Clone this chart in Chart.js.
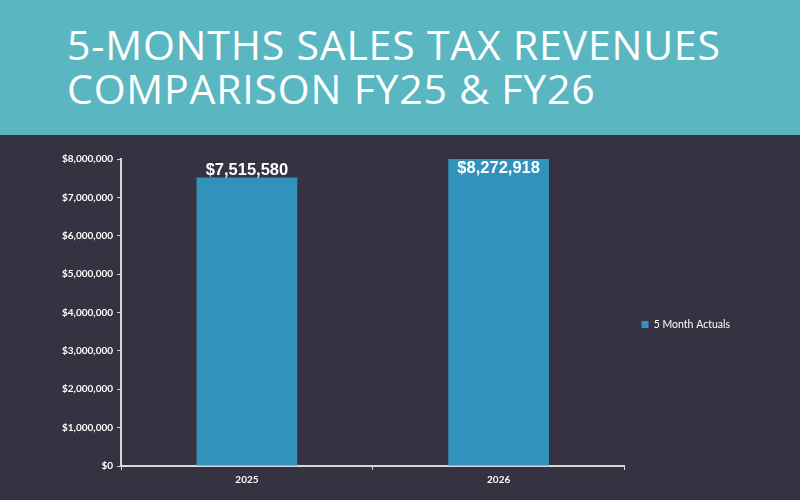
<!DOCTYPE html>
<html>
<head>
<meta charset="utf-8">
<script src="https://cdn.jsdelivr.net/npm/chart.js@4/dist/chart.umd.min.js"></script>
<style>
    html, body { margin: 0; padding: 0; }
    body { width: 800px; height: 500px; background: #353241; overflow: hidden; position: relative; }
    .header {
        position: absolute; left: 0; top: 0; width: 800px; height: 135px;
        background: #5ab7c1;
    }
    .header h1 {
        margin: 0; position: absolute; left: 67px; top: 22px;
        font-family: "Open Sans", sans-serif; font-weight: 400;
        font-size: 41px; line-height: 44px; color: #ffffff; letter-spacing: 0.8px;
    }
    .chart-box { position: absolute; left: 0; top: 135px; width: 800px; height: 365px; }
</style>
</head>
<body>
<div class="header"><h1>5-MONTHS SALES TAX REVENUES<br>COMPARISON FY25 &amp; FY26</h1></div>
<div class="chart-box"><canvas id="salesChart"></canvas></div>
<script>
const years = ['2025', '2026'];
const actuals = [7515580, 8272918];
const seriesName = '5 Month Actuals';
const yMax = 8000000;
const yStep = 1000000;

function money(v) {
    return '$' + Number(v).toLocaleString('en-US');
}

// value labels: above the bar, or inside the top when the bar runs past the axis max
const barLabels = {
    id: 'barLabels',
    afterDatasetsDraw(chart) {
        const ctx = chart.ctx;
        const meta = chart.getDatasetMeta(0);
        ctx.save();
        ctx.font = 'bold 16.5px "Liberation Sans", Arial, sans-serif';
        ctx.fillStyle = '#ffffff';
        ctx.textAlign = 'center';
        meta.data.forEach((bar, i) => {
            const v = actuals[i];
            if (v > yMax) {
                ctx.textBaseline = 'top';
                ctx.fillText(money(v), bar.x, chart.chartArea.top + 1);
            } else {
                ctx.textBaseline = 'bottom';
                ctx.fillText(money(v), bar.x, bar.y + 1);
            }
        });
        ctx.restore();
    }
};

new Chart(document.getElementById('salesChart'), {
    type: 'bar',
    data: {
        labels: years,
        datasets: [{
            label: seriesName,
            data: actuals,
            backgroundColor: '#3193bc',
            barPercentage: 0.4,
            categoryPercentage: 1
        }]
    },
    options: {
        responsive: true,
        maintainAspectRatio: false,
        animation: false,
        layout: { padding: { top: 24, right: 60, bottom: 10, left: 58 } },
        plugins: {
            tooltip: { enabled: false },
            legend: {
                position: 'right',
                labels: {
                    color: '#ffffff',
                    font: { family: 'Lato', size: 10.5 },
                    boxWidth: 7,
                    boxHeight: 7,
                    padding: 17
                }
            }
        },
        scales: {
            x: {
                grid: { display: true, drawOnChartArea: false, color: '#d8d8de', tickLength: 4, offset: true },
                border: { color: '#d8d8de', width: 2 },
                ticks: { color: '#ffffff', font: { family: 'Lato', size: 10, weight: 'bold' }, padding: 4 }
            },
            y: {
                min: 0,
                max: yMax,
                ticks: {
                    stepSize: yStep,
                    color: '#ffffff',
                    font: { family: 'Lato', size: 10, weight: 'bold' },
                    padding: 4,
                    callback: v => money(v)
                },
                grid: { display: true, drawOnChartArea: false, color: '#d8d8de', tickLength: 4 },
                border: { color: '#d8d8de', width: 2 }
            }
        }
    },
    plugins: [barLabels]
});
</script>
</body>
</html>
